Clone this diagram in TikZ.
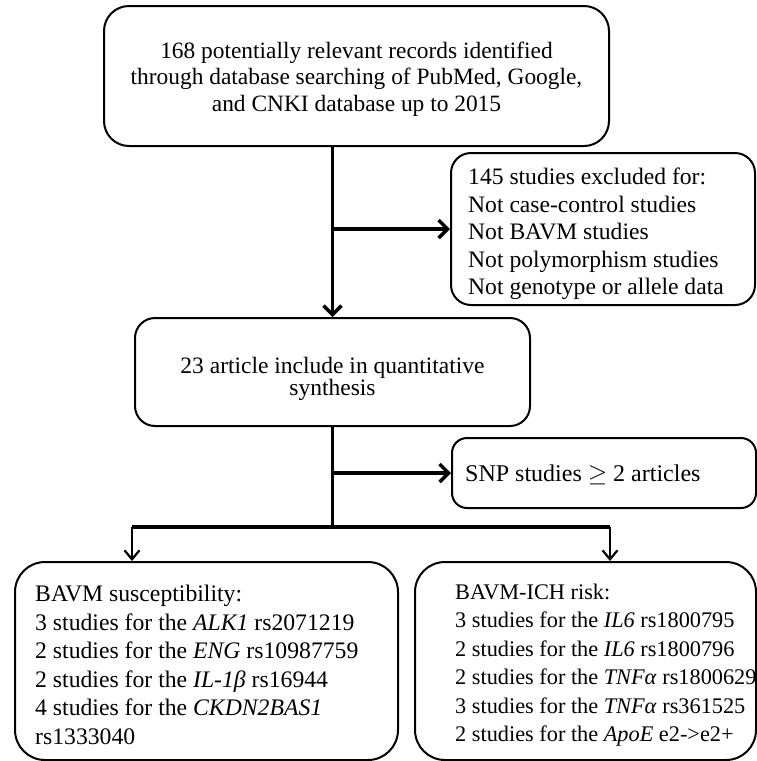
\documentclass[tikz,border=0pt]{standalone}
\usepackage{fontspec}
\setmainfont{Liberation Serif}
\usetikzlibrary{arrows.meta}
\begin{document}
\begin{tikzpicture}[x=1pt,y=-1pt,
  font=\fontsize{23.5}{28}\selectfont,
  box/.style={draw=black, line width=2pt, rounded corners=25pt, fill=white, inner sep=0pt},
  txt/.style={inner sep=0pt, align=left, anchor=west},
  ctxt/.style={inner sep=0pt, align=center},
  thickarrow/.style={line width=3.5pt, -{Straight Barb[length=9pt,width=18pt,line width=3.5pt]}},
  thinarrow/.style={line width=2.2pt, -{Straight Barb[length=9pt,width=15pt,line width=2.2pt]}},
  barline/.style={line width=3.2pt}
]
\useasboundingbox (0,0) rectangle (756,761);

\node[box, minimum width=505pt, minimum height=140pt] (top) at (356.5,76) {};
\node[ctxt, font=\fontsize{23.4}{26.7}\selectfont] (toptxt) at (356.5,79)
  {168 potentially relevant records identified\\through database searching of PubMed, Google,\\and CNKI database up to 2015};

\node[box, rounded corners=20pt, minimum width=304pt, minimum height=152pt] (excl) at (603,229) {};
\node[txt, font=\fontsize{23.6}{27.5}\selectfont] (excltxt) at (468,234)
  {145 studies excluded for:\\Not case-control studies\\Not BAVM studies\\Not polymorphism studies\\Not genotype or allele data};

\node[box, rounded corners=20pt, minimum width=395pt, minimum height=108pt] (mid) at (332.5,372) {};
\node[ctxt, font=\fontsize{23.5}{18}\selectfont] (midtxt) at (332.5,379)
  {23 article include in quantitative\\synthesis};

\node[box, rounded corners=15pt, minimum width=304pt, minimum height=70pt] (snp) at (604,473) {};
\node[txt, font=\fontsize{24}{28}\selectfont] (snptxt) at (465,475) {SNP studies $\geq$ 2 articles};

\node[box, rounded corners=30pt, minimum width=383pt, minimum height=198pt] (bl) at (206.5,661) {};
\node[txt, font=\fontsize{23.7}{28.5}\selectfont] (bltxt) at (35,665)
  {BAVM susceptibility:\\3 studies for the \textit{ALK1} rs2071219\\2 studies for the \textit{ENG} rs10987759\\2 studies for the \textit{IL-1β} rs16944\\4 studies for the \textit{CKDN2BAS1}\\rs1333040};

\node[box, rounded corners=30pt, minimum width=341pt, minimum height=198pt] (br) at (585.5,661) {};
\node[txt, font=\fontsize{22.3}{28.5}\selectfont] (brtxt) at (455,665)
  {BAVM-ICH risk:\\3 studies for the \textit{IL6} rs1800795\\2 studies for the \textit{IL6} rs1800796\\2 studies for the \textit{TNFα} rs1800629\\3 studies for the \textit{TNFα} rs361525\\2 studies for the \textit{ApoE} e2->e2+};

\coordinate (barL) at (132,527);
\coordinate (barR) at (610,527);

% top -> mid
\draw[thickarrow] (top.south -| mid.north) -- (mid.north);
\draw[thickarrow] (excl.west -| mid.north) -- (excl.west);

% mid -> bar
\draw[barline] (mid.south) -- (mid.south |- barL);
\draw[thickarrow] (snp.west -| mid.south) -- (snp.west);
\draw[barline] (barL) -- (barR);
\draw[thinarrow] (barL) -- (barL |- bl.north);
\draw[thinarrow] (barR) -- (barR |- br.north);
\end{tikzpicture}
\end{document}
